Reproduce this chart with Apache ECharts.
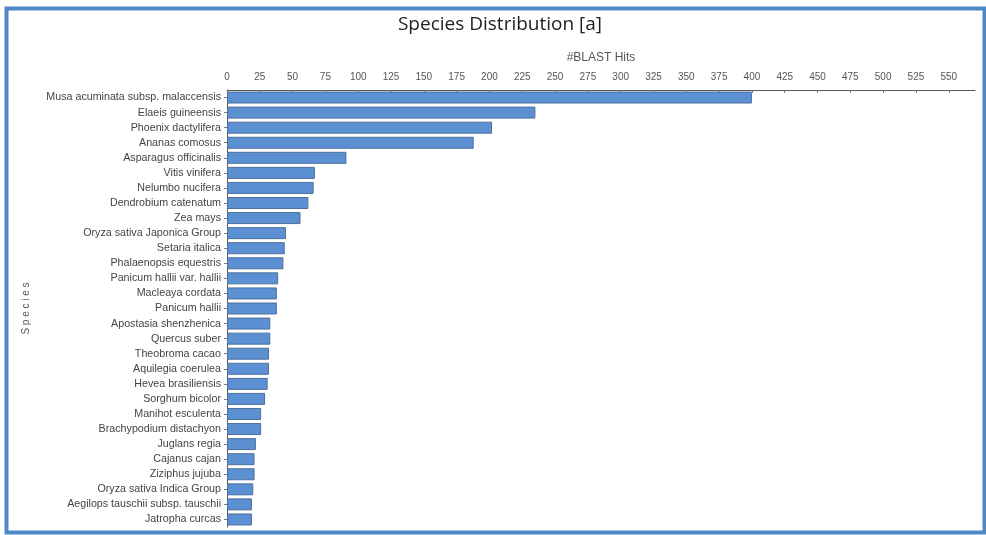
<!DOCTYPE html>
<html>
<head>
<meta charset="utf-8">
<script src="https://cdn.jsdelivr.net/npm/echarts@6/dist/echarts.min.js"></script>
<style>
  html, body { margin: 0; padding: 0; background: #fff; }
  #chart { width: 986px; height: 535px; }
</style>
</head>
<body>
<div id="chart"></div>
<script>
// Species ranked by number of BLAST hits (top of list first)
const species = [
  'Musa acuminata subsp. malaccensis', 'Elaeis guineensis', 'Phoenix dactylifera',
  'Ananas comosus', 'Asparagus officinalis', 'Vitis vinifera', 'Nelumbo nucifera',
  'Dendrobium catenatum', 'Zea mays', 'Oryza sativa Japonica Group', 'Setaria italica',
  'Phalaenopsis equestris', 'Panicum hallii var. hallii', 'Macleaya cordata',
  'Panicum hallii', 'Apostasia shenzhenica', 'Quercus suber', 'Theobroma cacao',
  'Aquilegia coerulea', 'Hevea brasiliensis', 'Sorghum bicolor', 'Manihot esculenta',
  'Brachypodium distachyon', 'Juglans regia', 'Cajanus cajan', 'Ziziphus jujuba',
  'Oryza sativa Indica Group', 'Aegilops tauschii subsp. tauschii', 'Jatropha curcas'
];
const blastHits = [
  400, 235, 202, 188, 91, 67, 66, 62, 56, 45, 44, 43, 39, 38, 38,
  33, 33, 32, 32, 31, 29, 26, 26, 22, 21, 21, 20, 19, 19
];
const chartTitle = 'Species Distribution [a]';
const xName = '#BLAST Hits';
const yName = 'S p e c i e s';

const chart = echarts.init(document.getElementById('chart'));
chart.setOption({
  backgroundColor: '#fff',
  animation: false,
  title: {
    text: chartTitle,
    left: 495, top: 10, textAlign: 'center',
    textStyle: { fontFamily: 'Open Sans', fontSize: 19, fontWeight: 'normal', color: '#222' }
  },
  grid: { left: 227, right: 11, top: 90, bottom: 8 },
  xAxis: {
    type: 'value', position: 'top', min: 0, max: 570, interval: 25,
    name: xName, nameLocation: 'middle', nameGap: 26,
    nameTextStyle: { fontFamily: 'Liberation Sans', fontSize: 12, color: '#555' },
    axisLine: { show: true, lineStyle: { color: '#555', width: 1 } },
    axisTick: { show: true, inside: true, length: 3, lineStyle: { color: '#777' } },
    axisLabel: { showMaxLabel: false, fontFamily: 'Liberation Sans', fontSize: 10, color: '#555', margin: 8 },
    splitLine: { show: false }
  },
  yAxis: {
    type: 'category', data: species, inverse: true,
    name: yName, nameLocation: 'middle', nameRotate: 90, nameGap: 196,
    nameTextStyle: { fontFamily: 'Liberation Sans', fontSize: 10, color: '#555' },
    axisLine: { show: true, lineStyle: { color: '#555' } },
    axisTick: { show: true, alignWithLabel: true, length: 3, lineStyle: { color: '#777' } },
    axisLabel: { fontFamily: 'Liberation Sans', fontSize: 10.7, color: '#444', margin: 6 }
  },
  series: [{
    type: 'bar', data: blastHits, barWidth: 12,
    itemStyle: { color: '#5b90d3', borderColor: '#4d6f9c', borderWidth: 1 }
  }],
  graphic: [{
    type: 'rect', left: 4, top: 6, silent: true,
    shape: { width: 978, height: 524 },
    style: { fill: 'none', stroke: '#4f88c6', lineWidth: 4 }
  }]
});
</script>
</body>
</html>
